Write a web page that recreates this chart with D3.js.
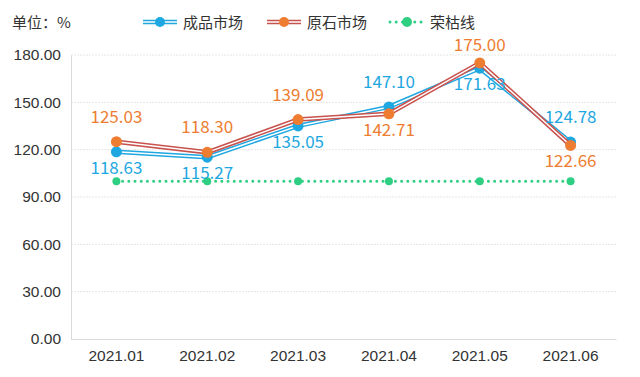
<!DOCTYPE html>
<html>
<head>
<meta charset="utf-8">
<script src="https://cdn.jsdelivr.net/npm/d3@7"></script>
<style>
  body { margin: 0; background: #fff; }
  svg { display: block; font-family: "Noto Sans CJK SC", "Noto Sans", sans-serif; }
</style>
</head>
<body>
<svg id="chart" width="640" height="377"></svg>
<script>
// data
const months = ["2021.01", "2021.02", "2021.03", "2021.04", "2021.05", "2021.06"];
const finished = [118.63, 115.27, 135.05, 147.10, 171.63, 124.78];   // 成品市场
const rough = [125.03, 118.30, 139.09, 142.71, 175.00, 122.66];      // 原石市场
const threshold = [100, 100, 100, 100, 100, 100];                    // 荣枯线
const yTicks = [0, 30, 60, 90, 120, 150, 180];

// styles
const blue = "#1ea7e1";
const orange = "#ee7d31";
const redLine = "#c8524d";
const green = "#2fcf83";
const gridColor = "#e6e6e6";

const svg = d3.select("#chart");
const plot = { left: 71, right: 616, top: 55, bottom: 339 };

const x = d3.scaleBand().domain(months).range([plot.left, plot.right]);
const y = d3.scaleLinear().domain([0, 180]).range([plot.bottom, plot.top]);
const cx = d => x(d) + x.bandwidth() / 2;

// grid
svg.append("g").selectAll("line")
    .data(yTicks.filter(d => d > 0))
    .join("line")
    .attr("x1", plot.left).attr("x2", plot.right)
    .attr("y1", d => y(d)).attr("y2", d => y(d))
    .attr("stroke", gridColor)
    .attr("stroke-dasharray", "2,1");

// axes
const yAxis = svg.append("g")
    .attr("transform", `translate(${plot.left},0)`)
    .call(d3.axisLeft(y).tickValues(yTicks).tickFormat(d3.format(".2f")).tickSize(0).tickPadding(10));
yAxis.select(".domain").attr("stroke", "#d9d9d9");
yAxis.selectAll("text").attr("font-size", 15.5).attr("fill", "#333");

const xAxis = svg.append("g")
    .attr("transform", `translate(0,${plot.bottom})`)
    .call(d3.axisBottom(x).tickSize(0).tickPadding(11));
xAxis.select(".domain").attr("stroke", "#d9d9d9");
xAxis.selectAll("text").attr("font-size", 15.5).attr("fill", "#333");

// lines
const line = d3.line().x((d, i) => cx(months[i])).y(d => y(d));

const drawSeries = (values, outer, marker) => {
    const g = svg.append("g");
    g.append("path").attr("d", line(values))
        .attr("fill", "none").attr("stroke", outer).attr("stroke-width", 4.5);
    g.append("path").attr("d", line(values))
        .attr("fill", "none").attr("stroke", "#fff").attr("stroke-width", 1.5);
    g.selectAll("circle").data(values).join("circle")
        .attr("cx", (d, i) => cx(months[i])).attr("cy", d => y(d))
        .attr("r", 5.5).attr("fill", marker);
};

// threshold dotted line
svg.append("path").attr("d", line(threshold))
    .attr("fill", "none").attr("stroke", green).attr("stroke-width", 3)
    .attr("stroke-linecap", "round").attr("stroke-dasharray", "0,6.2");
svg.append("g").selectAll("circle").data(threshold).join("circle")
    .attr("cx", (d, i) => cx(months[i])).attr("cy", d => y(d))
    .attr("r", 4).attr("fill", green);

drawSeries(finished, blue, blue);
drawSeries(rough, redLine, orange);

// data labels: higher value above, lower below; keep labels under the legend
const labels = svg.append("g").attr("font-size", 17).attr("text-anchor", "middle");
months.forEach((m, i) => {
    const pairs = [[finished[i], blue], [rough[i], orange]];
    const hi = finished[i] > rough[i] ? 0 : 1;
    pairs.forEach(([v, c], k) => {
        let ly = k === hi ? y(v) - 19 : y(v) + 22;
        if (k === hi) ly = Math.max(ly, 51);
        labels.append("text")
            .attr("x", cx(m))
            .attr("y", ly)
            .attr("fill", c)
            .text(v.toFixed(2));
    });
});

// unit
svg.append("text").attr("x", 12).attr("y", 28).attr("font-size", 15).attr("fill", "#333").text("单位：%");

// legend
const legend = svg.append("g").attr("font-size", 15).attr("fill", "#333");
const legendItems = [
    { name: "成品市场", x: 143, outer: blue, marker: blue, type: "line" },
    { name: "原石市场", x: 267, outer: redLine, marker: orange, type: "line" },
    { name: "荣枯线", x: 390, outer: green, marker: green, type: "dot" }
];
legendItems.forEach(it => {
    const ly = 22;
    if (it.type === "line") {
        legend.append("line").attr("x1", it.x).attr("x2", it.x + 34).attr("y1", ly).attr("y2", ly)
            .attr("stroke", it.outer).attr("stroke-width", 4.5);
        legend.append("line").attr("x1", it.x).attr("x2", it.x + 34).attr("y1", ly).attr("y2", ly)
            .attr("stroke", "#fff").attr("stroke-width", 1.5);
    } else {
        legend.append("line").attr("x1", it.x).attr("x2", it.x + 34).attr("y1", ly).attr("y2", ly)
            .attr("stroke", it.outer).attr("stroke-width", 3)
            .attr("stroke-linecap", "round").attr("stroke-dasharray", "0,6.2");
    }
    legend.append("circle").attr("cx", it.x + 17).attr("cy", ly).attr("r", 5).attr("fill", it.marker);
    legend.append("text").attr("x", it.x + 40).attr("y", ly + 5.5).text(it.name);
});
</script>
</body>
</html>
